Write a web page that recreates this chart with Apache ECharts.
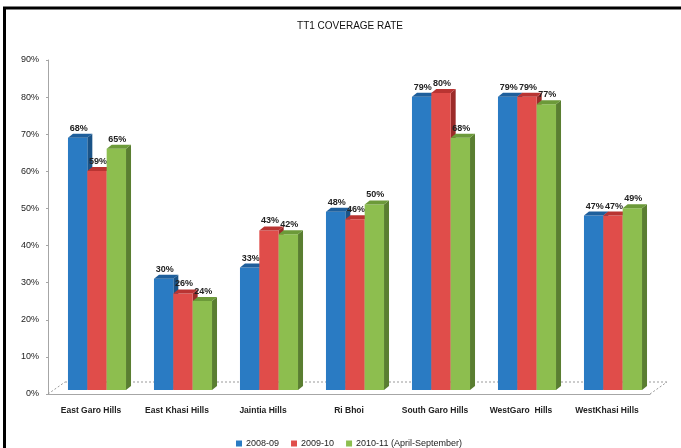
<!DOCTYPE html>
<html>
<head>
<meta charset="utf-8">
<script src="https://cdn.jsdelivr.net/npm/echarts@6/dist/echarts.min.js"></script>
<style>
  html, body { margin: 0; padding: 0; background: #ffffff; }
  #chart { width: 681px; height: 448px; }
</style>
</head>
<body>
<div id="chart"></div>
<script>
// District names along the category axis
const categories = ['East Garo Hills', 'East Khasi Hills', 'Jaintia Hills', 'Ri Bhoi',
  'South Garo Hills', 'WestGaro  Hills', 'WestKhasi Hills'];

// Coverage rate (%) per reporting period
const seriesNames = ['2008-09', '2009-10', '2010-11 (April-September)'];
const values2008 = [68, 30, 33, 48, 79, 79, 47];
const values2009 = [59, 26, 43, 46, 80, 79, 47];
const values2010 = [65, 24, 42, 50, 68, 77, 49];

// Value axis range and step
const yMin = 0;
const yMax = 90;
const yStep = 10;

const palette = [
  { front: '#2A7BC3', top: '#1E5F9C', side: '#1A5387' },
  { front: '#E04D4A', top: '#B93432', side: '#9C2B29' },
  { front: '#8DBE4F', top: '#6C9A39', side: '#5A7E31' }
];

const narrowFont = '"Liberation Sans Narrow", "Liberation Sans", Arial, sans-serif';

// Pseudo-3D extrusion used for every column (pixels)
const DEPTH_X = 5, DEPTH_Y = 4;    // visible depth of top/side faces
const SHIFT_X = 6, SHIFT_Y = -4;   // columns sit a little back from the front axis
const GROUP_RATIO = 0.675;         // share of a category slot used by the column group

function makeBarRenderer(seriesIdx, count) {
  const c = palette[seriesIdx];
  return function (params, api) {
    const cat = api.value(0);
    const val = api.value(1);
    const base = api.coord([cat, 0]);
    const top = api.coord([cat, val]);
    const slot = api.size([1, 0])[0];
    const bw = slot * GROUP_RATIO / count;
    const x = base[0] - slot * GROUP_RATIO / 2 + seriesIdx * bw + SHIFT_X;
    const yT = top[1] + SHIFT_Y;
    const yB = base[1] + SHIFT_Y;
    return {
      type: 'group',
      children: [
        {
          type: 'polygon',
          shape: { points: [[x + bw, yT], [x + bw + DEPTH_X, yT - DEPTH_Y], [x + bw + DEPTH_X, yB - DEPTH_Y], [x + bw, yB]] },
          style: { fill: c.side }
        },
        {
          type: 'rect',
          shape: { x: x, y: yT, width: bw, height: yB - yT },
          style: { fill: c.front }
        },
        {
          type: 'polygon',
          shape: { points: [[x, yT], [x + bw, yT], [x + bw + DEPTH_X, yT - DEPTH_Y], [x + DEPTH_X, yT - DEPTH_Y]] },
          style: { fill: c.top }
        },
        {
          type: 'text',
          style: {
            x: x + bw / 2 + 1,
            y: yT - DEPTH_Y - 1,
            text: val + '%',
            fill: '#222222',
            font: 'bold 9px "Liberation Sans", Arial, sans-serif',
            textAlign: 'center',
            textVerticalAlign: 'bottom'
          }
        }
      ]
    };
  };
}

// Dashed back edge of the floor plus its two receding sides
function renderFloor(params) {
  const cs = params.coordSys;
  const fx = 17, fy = 12;
  const yb = cs.y + cs.height;
  const lineStyle = { stroke: '#9a9a9a', lineWidth: 1, lineDash: [2, 2], fill: null };
  return {
    type: 'group',
    children: [
      { type: 'line', shape: { x1: cs.x + fx, y1: yb - fy, x2: cs.x + cs.width + fx, y2: yb - fy }, style: lineStyle },
      { type: 'line', shape: { x1: cs.x, y1: yb, x2: cs.x + fx, y2: yb - fy }, style: lineStyle },
      { type: 'line', shape: { x1: cs.x + cs.width, y1: yb, x2: cs.x + cs.width + fx, y2: yb - fy }, style: lineStyle }
    ]
  };
}

const allValues = [values2008, values2009, values2010];

const series = [{
  type: 'custom',
  name: 'floor',
  silent: true,
  z: 1,
  renderItem: renderFloor,
  data: [[0, 0]]
}];

allValues.forEach(function (vals, s) {
  series.push({
    type: 'custom',
    name: seriesNames[s],
    z: 2 + s,
    itemStyle: { color: palette[s].front },
    renderItem: makeBarRenderer(s, allValues.length),
    encode: { x: 0, y: 1 },
    clip: false,
    data: vals.map(function (v, i) { return [i, v]; })
  });
});

const chart = echarts.init(document.getElementById('chart'), null, { renderer: 'canvas' });
chart.setOption({
  animation: false,
  backgroundColor: '#ffffff',
  textStyle: { fontFamily: '"Liberation Sans", Arial, sans-serif' },
  title: {
    text: 'TT1 COVERAGE RATE',
    left: 345,
    top: 16,
    textAlign: 'center',
    textStyle: { fontSize: 10, fontWeight: 'normal', color: '#111111', fontFamily: narrowFont }
  },
  legend: {
    data: seriesNames,
    left: 231,
    top: 434,
    itemWidth: 6,
    itemHeight: 6,
    itemGap: 12,
    icon: 'rect',
    textStyle: { fontSize: 9, color: '#222222', padding: [0, 0, 0, -1] }
  },
  grid: { left: 48, right: 31, top: 60, bottom: 54 },
  xAxis: {
    type: 'category',
    data: categories,
    axisLine: { lineStyle: { color: '#a6a6a6' } },
    axisTick: { alignWithLabel: false, length: 3, lineStyle: { color: '#a6a6a6' } },
    axisLabel: { fontSize: 8.5, fontWeight: 'bold', color: '#222222', margin: 12, interval: 0 }
  },
  yAxis: {
    type: 'value',
    min: yMin,
    max: yMax,
    interval: yStep,
    splitLine: { show: false },
    axisLine: { show: true, lineStyle: { color: '#a6a6a6' } },
    axisTick: { show: true, length: 2, lineStyle: { color: '#a6a6a6' } },
    axisLabel: { fontSize: 9, color: '#222222', margin: 9, formatter: '{value}%' }
  },
  graphic: [{
    type: 'rect',
    silent: true,
    z: 100,
    shape: { x: 4.5, y: 8, width: 720, height: 480 },
    style: { fill: null, stroke: '#000000', lineWidth: 3 }
  }],
  series: series
});
</script>
</body>
</html>
